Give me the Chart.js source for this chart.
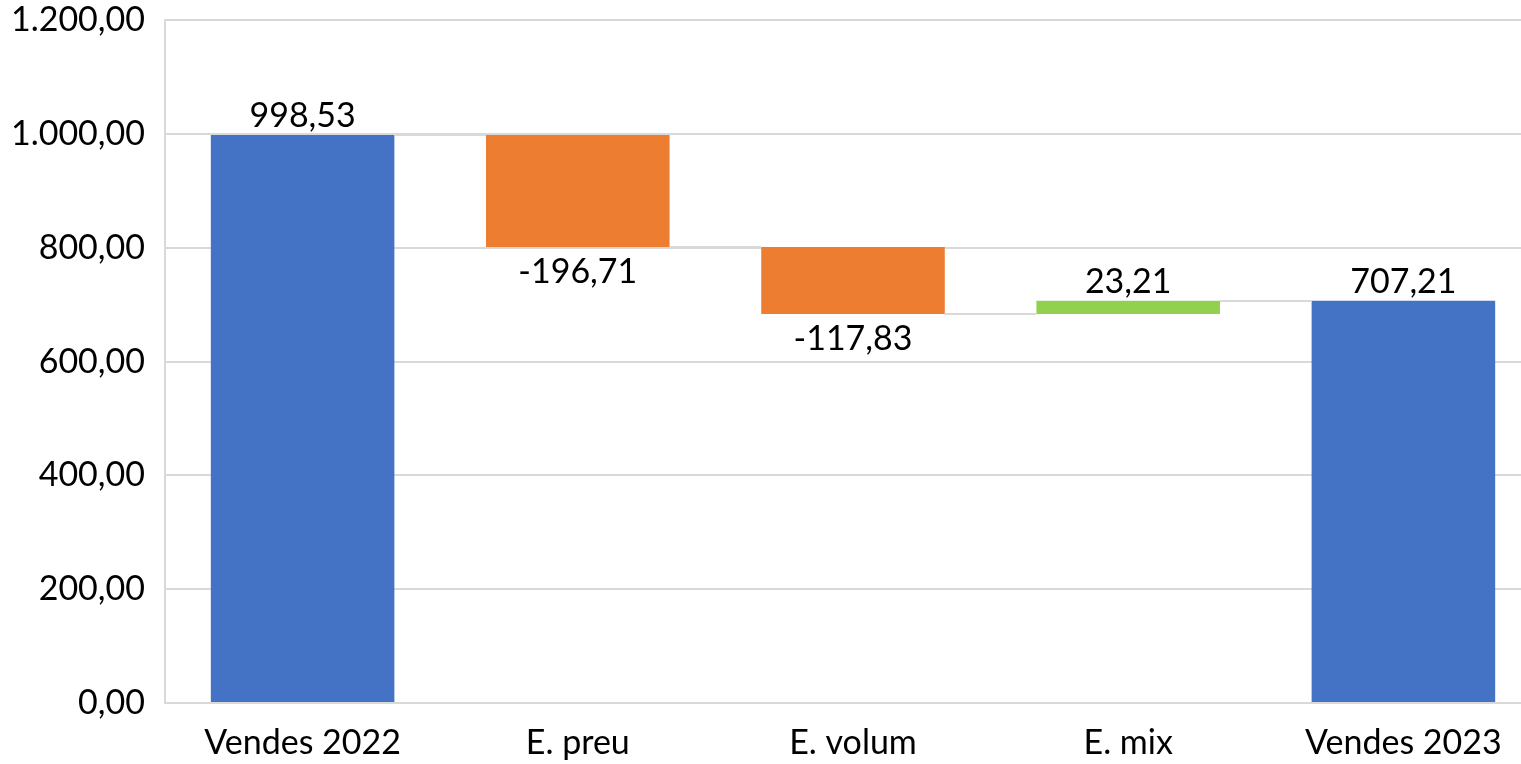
<!DOCTYPE html>
<html>
<head>
<meta charset="utf-8">
<title>Vendes 2022 - 2023</title>
<script src="https://cdn.jsdelivr.net/npm/chart.js@4.4.1/dist/chart.umd.min.js"></script>
<style>
  html, body { margin: 0; padding: 0; background: #fff; overflow: hidden; }
  #wrap { width: 1541px; height: 764px; }
</style>
</head>
<body>
<div id="wrap"><canvas id="chart" width="1541" height="764"></canvas></div>
<script>
// data
const categories = ['Vendes 2022', 'E. preu', 'E. volum', 'E. mix', 'Vendes 2023'];
const values = [998.53, -196.71, -117.83, 23.21, 707.21];
const isTotal = [true, false, false, false, true];
const barColors = ['#4472C4', '#ED7D31', '#ED7D31', '#92D050', '#4472C4'];

const FONT = 'Lato, "Open Sans", sans-serif';
const FONT_SIZE = 34;
const GRID = '#d9d9d9';

// catalan number format: 1.200,00
function fmt(v) {
    const parts = Math.abs(v).toFixed(2).split('.');
    const intPart = parts[0].replace(/\B(?=(\d{3})+(?!\d))/g, '.');
    return (v < 0 ? '-' : '') + intPart + ',' + parts[1];
}

// floating ranges for the waterfall
const ranges = [];
let running = 0;
values.forEach((v, i) => {
    if (isTotal[i]) {
        ranges.push([0, v]);
        running = v;
    } else {
        ranges.push([running, running + v]);
        running += v;
    }
});

const waterfallExtras = {
    id: 'waterfallExtras',
    afterDatasetsDraw(chart) {
        const ctx = chart.ctx;
        const meta = chart.getDatasetMeta(0);
        const yScale = chart.scales.y;
        ctx.save();
        // connector lines
        ctx.strokeStyle = GRID;
        ctx.lineWidth = 2;
        for (let i = 0; i < meta.data.length - 1; i++) {
            const a = meta.data[i], b = meta.data[i + 1];
            const y = Math.round(yScale.getPixelForValue(ranges[i][1]));
            ctx.beginPath();
            ctx.moveTo(a.x + a.width / 2, y);
            ctx.lineTo(b.x - b.width / 2, y);
            ctx.stroke();
        }
        // value labels
        ctx.fillStyle = '#000';
        ctx.font = FONT_SIZE + 'px ' + FONT;
        ctx.textAlign = 'center';
        meta.data.forEach((bar, i) => {
            const top = Math.min(bar.y, bar.base);
            const bottom = Math.max(bar.y, bar.base);
            if (values[i] < 0) {
                ctx.textBaseline = 'top';
                ctx.fillText(fmt(values[i]), bar.x, bottom + 8);
            } else {
                ctx.textBaseline = 'bottom';
                ctx.fillText(fmt(values[i]), bar.x, top - 2);
            }
        });
        ctx.restore();
    }
};

new Chart(document.getElementById('chart'), {
    type: 'bar',
    data: {
        labels: categories,
        datasets: [{
            data: ranges,
            backgroundColor: barColors,
            borderWidth: 0,
            barPercentage: 0.667,
            categoryPercentage: 1
        }]
    },
    options: {
        responsive: false,
        animation: false,
        layout: { padding: 0 },
        plugins: {
            legend: { display: false },
            tooltip: { enabled: false }
        },
        scales: {
            x: {
                grid: { display: false, drawTicks: false },
                border: { color: GRID, width: 2 },
                ticks: {
                    color: '#000',
                    font: { family: FONT, size: FONT_SIZE },
                    padding: 20
                },
                afterFit(scale) { scale.height = 61; }
            },
            y: {
                min: 0,
                max: 1200,
                ticks: {
                    stepSize: 200,
                    color: '#000',
                    font: { family: FONT, size: FONT_SIZE },
                    padding: 0,
                    callback: v => fmt(v)
                },
                // invisible tick marks give the gap between labels and axis
                grid: { color: GRID, lineWidth: 2, drawTicks: true, tickLength: 20, tickColor: 'rgba(0,0,0,0)' },
                border: { color: GRID, width: 2 },
                afterFit(scale) { scale.width = 165; }
            }
        }
    },
    plugins: [waterfallExtras]
});
</script>
</body>
</html>
